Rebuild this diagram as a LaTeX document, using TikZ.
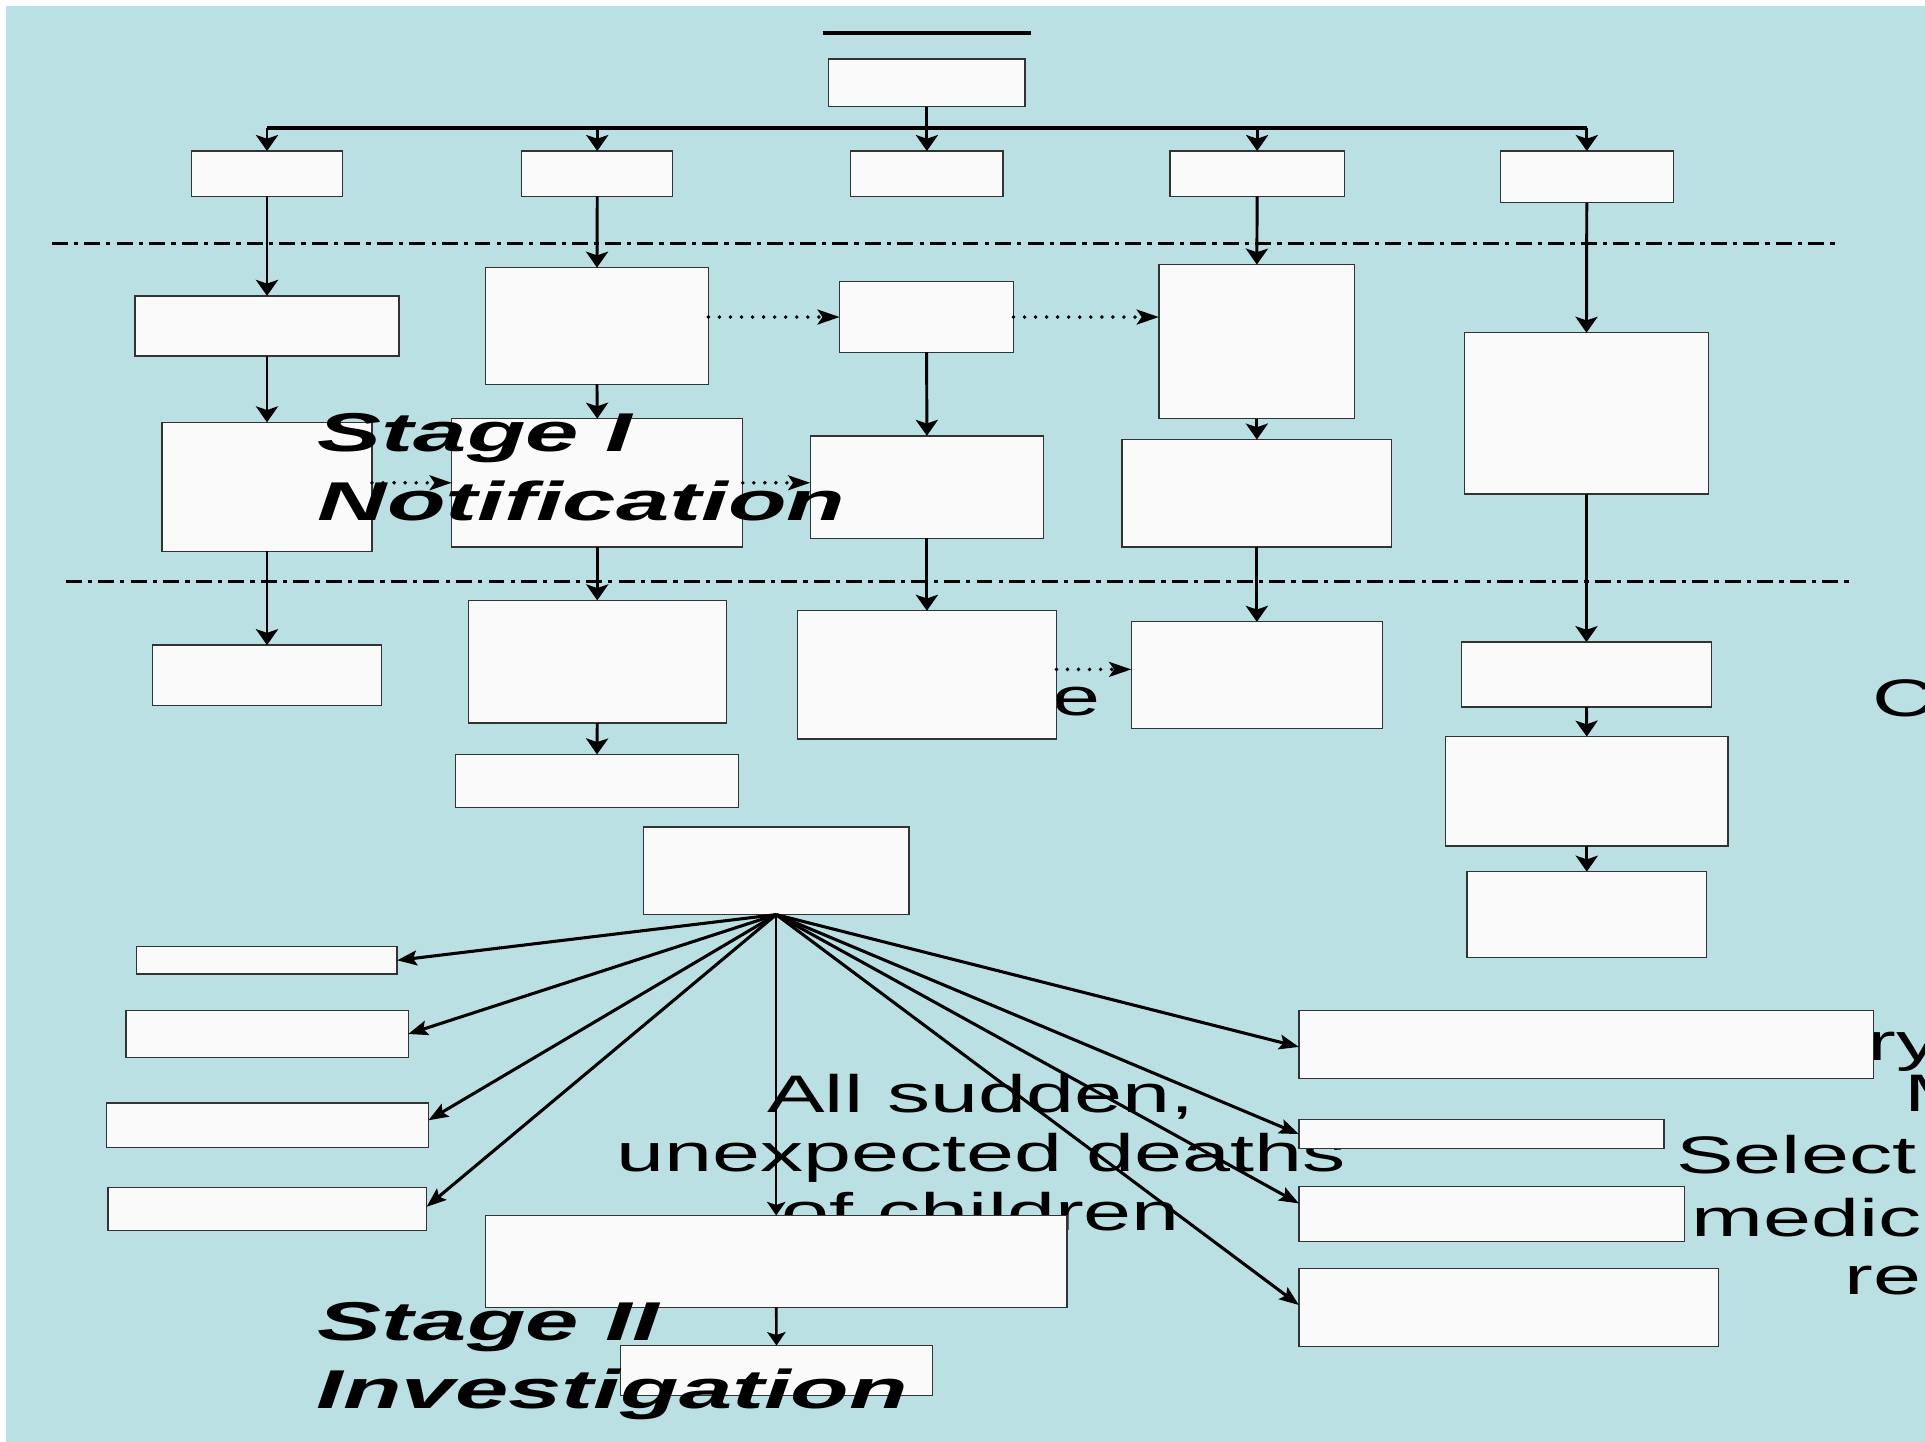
\documentclass[tikz,border=0pt]{standalone}
\usepackage{fontspec}
\setmainfont{Liberation Sans}
\usepackage{graphicx}
\usetikzlibrary{arrows.meta}
\definecolor{bgblue}{RGB}{187,224,227}
\definecolor{boxfill}{RGB}{250,250,250}
\newcommand{\mybox}[5]{\node[boxsty, minimum width={(#4-#2)*1pt}, minimum height={(#5-#3)*1pt}] (#1) at ({(#2+#4)/2},{(#3+#5)/2}) {};}
\newcommand{\sx}[1]{\scalebox{1.635}[1]{#1}}
\newcommand{\bx}[1]{\scalebox{1.755}[1]{#1}}
\tikzset{
 boxsty/.style={rectangle, draw=black!80, line width=1.1pt, fill=boxfill, inner sep=0pt, outer sep=0pt},
 varr/.style={line width=2.4pt, -{Stealth[length=13pt,width=18pt,inset=3pt]}},
 varrs/.style={line width=2.1pt, -{Stealth[length=11pt,width=15pt,inset=2.5pt]}},
 darr/.style={line width=3.2pt, line cap=round, dash pattern=on 0pt off 9pt, -{Stealth[length=18pt,width=12pt,inset=4pt]}},
 farr/.style={line width=2.5pt, -{Stealth[length=16pt,width=12pt,inset=3pt]}},
 ddline/.style={line width=2.5pt, dash pattern=on 13pt off 5pt on 3.5pt off 5pt},
 plaintxt/.style={inner sep=0pt, outer sep=0pt, font=\fontsize{43}{50}\selectfont},
 stagetxt/.style={inner sep=0pt, outer sep=0pt, font=\fontsize{44.5}{55}\selectfont\bfseries\itshape},
}
\begin{document}
\begin{tikzpicture}[x=1pt,y=-1pt]
\useasboundingbox (0,0) rectangle (1568,1174);
\clip (0,0) rectangle (1568,1174);
\fill[white] (0,0) rectangle (1568,1174);
\fill[bgblue] (4.9,4.9) rectangle (1570,1176);

% texts lying behind the boxes
\node[plaintxt, anchor=base] (t1) at (799,906.3) {\sx{All sudden,}};
\node[plaintxt, anchor=base] (t2) at (799,954.4) {\sx{unexpected deaths}};
\node[plaintxt, anchor=base] (t3) at (799,1002.5) {\sx{of children}};
\node[plaintxt, anchor=base east] (te) at (896,583) {\sx{e}};
\node[plaintxt, anchor=base west] (tc) at (1525,583.8) {\sx{C}};
\node[plaintxt, anchor=base west] (try) at (1521,863.5) {\sx{ry}};
\node[plaintxt, anchor=base west] (tm) at (1551,905.5) {\sx{M}};
\node[plaintxt, anchor=base west] (tsel) at (1365.4,955.7) {\sx{Select}};
\node[plaintxt, anchor=base west] (tmed) at (1377.6,1007.3) {\sx{medic}};
\node[plaintxt, anchor=base west] (tre) at (1502.5,1054.8) {\sx{re}};

% top line
\coordinate (tl1) at (670,27);
\coordinate (tl2) at (840,27);
\draw[line width=3.5pt] (tl1) -- (tl2);

% boxes
\mybox{T}{675}{48}{835}{87}
\mybox{A1}{156}{123}{279}{160}
\mybox{B1}{425}{123}{548}{160}
\mybox{C1}{693}{123}{817}{160}
\mybox{D1}{953}{123}{1095}{160}
\mybox{E1}{1222}{123}{1363}{165}
\mybox{A2}{110}{241}{325}{290}
\mybox{B2}{395.5}{218}{577}{313}
\mybox{C2}{684}{229.5}{825.5}{287}
\mybox{D2}{944}{215.5}{1103.5}{341}
\mybox{E2}{1193}{271}{1391.5}{402.5}
\mybox{A3}{132}{344}{303}{449}
\mybox{B3}{368}{341}{605}{445.5}
\mybox{C3}{660}{355}{850}{438.5}
\mybox{D3}{914}{358}{1133.5}{445.5}
\mybox{A4}{124}{525.5}{311}{574.5}
\mybox{B4}{381.5}{489}{591.5}{589}
\mybox{C4}{649.5}{497.5}{860.5}{602}
\mybox{D4}{921.5}{506.5}{1126}{593.5}
\mybox{E4}{1190.5}{523}{1394}{576}
\mybox{B5}{371}{614.5}{601.5}{657.5}
\mybox{E5}{1177.5}{600}{1407.5}{689}
\mybox{E6}{1195}{710}{1390}{780}
\mybox{F}{524}{673.5}{740.5}{745}
\mybox{L1}{111}{771}{323.5}{793.5}
\mybox{L2}{102.5}{823}{332.5}{861.5}
\mybox{L3}{86.5}{898.5}{349}{934.5}
\mybox{L4}{88}{967.5}{347.5}{1002.5}
\mybox{BB}{395.5}{990}{869}{1065}
\mybox{S2}{505.5}{1096}{759.5}{1136.5}
\mybox{R1}{1058}{823}{1526}{878.5}
\mybox{R2}{1058}{912}{1355.5}{935.5}
\mybox{R3}{1058}{966.5}{1372}{1011}
\mybox{R4}{1058}{1033}{1400}{1097}

% dash-dot separators
\coordinate (dd1a) at (42,198.7);
\coordinate (dd1b) at (1497,198.7);
\coordinate (dd2a) at (53.4,473.3);
\coordinate (dd2b) at (1507.3,473.3);
\draw[ddline] (dd1a) -- (dd1b);
\draw[ddline] (dd2a) -- (dd2b);

% bus
\coordinate (busy) at (0,104);
\draw[line width=3.5pt] (A1.north |- busy) -- (E1.north |- busy);
\draw[varr] (T.south) -- (C1.north);
\draw[varr] (A1.north |- busy) -- (A1.north);
\draw[varr] (B1.north |- busy) -- (B1.north);
\draw[varr] (D1.north |- busy) -- (D1.north);
\draw[varr] (E1.north |- busy) -- (E1.north);

% column arrows
\draw[varr] (A1.south) -- (A2.north);
\draw[varr] (B1.south) -- (B2.north);
\draw[varr] (D1.south) -- (D2.north);
\draw[varr] (E1.south) -- (E2.north);
\draw[varr] (A2.south) -- (A3.north);
\draw[varr] (B2.south) -- (B3.north);
\draw[varr] (C2.south) -- (C3.north);
\draw[varr] (D2.south) -- (D3.north);
\draw[varr] (A3.south) -- (A4.north);
\draw[varr] (B3.south) -- (B4.north);
\draw[varr] (C3.south) -- (C4.north);
\draw[varr] (D3.south) -- (D4.north);
\draw[varr] (E2.south) -- (E4.north);
\draw[varr] (B4.south) -- (B5.north);
\draw[varr] (E4.south) -- (E5.north);
\draw[varr] (E5.south) -- (E6.north);

% dotted arrows
\draw[darr] (B2.east |- C2.west) -- (C2.west);
\draw[darr] (C2.east) -- (C2.east -| D2.west);
\draw[darr] (A3.east |- B3.west) -- (B3.west);
\draw[darr] (B3.east) -- (B3.east -| C3.west);
\draw[darr] ([yshift=4.5pt]C4.east) -- ([yshift=4.5pt]C4.east -| D4.west);

% fan
\draw[farr] (F.south) -- (L1.east);
\draw[farr] (F.south) -- (L2.east);
\draw[farr] (F.south) -- ([yshift=4pt]L3.east);
\draw[farr] (F.south) -- ([yshift=2pt]L4.east);
\draw[varrs] (F.south) -- (BB.north);
\draw[farr] (F.south) -- ([yshift=-2pt]R1.west);
\draw[farr] (F.south) -- (R2.west);
\draw[farr] (F.south) -- ([yshift=8.5pt]R3.west);
\draw[farr] (F.south) -- ([yshift=2pt]R4.west);
\draw[varrs] (BB.south) -- (S2.north);

% stage labels
\node[stagetxt, anchor=base west] (st1a) at (259,368) {\bx{Stage I}};
\node[stagetxt, anchor=base west] (st1b) at (259,423.6) {\bx{Notification}};
\node[stagetxt, anchor=base west] (st2a) at (259,1091.5) {\bx{Stage II}};
\node[stagetxt, anchor=base west] (st2b) at (258,1147) {\bx{Investigation}};
\end{tikzpicture}
\end{document}
